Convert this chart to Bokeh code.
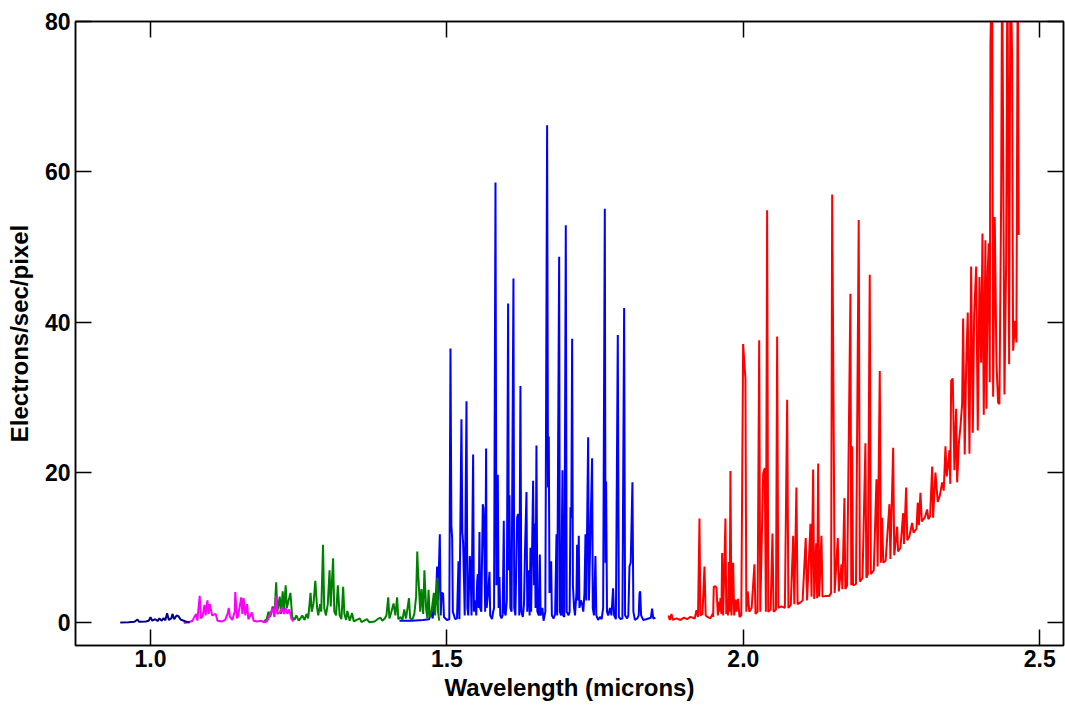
from bokeh.plotting import figure
from bokeh.models import Range1d, LinearAxis, FixedTicker, PrintfTickFormatter
from bokeh.embed import file_html
from bokeh.resources import INLINE

# ---------------- data ----------------
x_ticks = [1.0, 1.5, 2.0, 2.5]
y_ticks = [0, 20, 40, 60, 80]

navy_wl = [0.949, 0.963, 0.973, 0.978, 0.981, 0.992, 0.997, 1.000, 1.003, 1.008, 1.012, 1.015,
           1.019, 1.022, 1.025, 1.028, 1.031, 1.035, 1.037, 1.040, 1.044, 1.047, 1.051, 1.056,
           1.061, 1.066]
navy_flux = [0.05, 0.1, 0.15, 0.45, 0.15, 0.2, 0.3, 0.75, 0.3, 0.5, 0.25, 0.6,
             0.3, 0.65, 0.35, 1.3, 0.4, 0.6, 1.2, 0.5, 1.0, 0.9, 0.45, 0.3,
             0.15, 0.05]

magenta_wl = [1.056, 1.064, 1.071, 1.074, 1.077, 1.079, 1.083, 1.085, 1.088, 1.091, 1.093, 1.096,
              1.098, 1.100, 1.104, 1.110, 1.113, 1.121, 1.126, 1.130, 1.132, 1.134, 1.138, 1.142,
              1.143, 1.146, 1.148, 1.153, 1.155, 1.157, 1.160, 1.163, 1.165, 1.171, 1.174, 1.180,
              1.186, 1.191, 1.196, 1.199, 1.202, 1.206, 1.209, 1.212, 1.214, 1.218, 1.222, 1.225,
              1.228, 1.231, 1.234, 1.238, 1.241]
magenta_flux = [0.0, 0.1, 0.3, 0.8, 1.2, 0.3, 3.6, 0.6, 0.9, 2.4, 1.0, 3.0,
                1.2, 2.5, 1.0, 1.2, 0.3, 0.2, 0.4, 1.2, 2.0, 0.8, 0.4, 1.5,
                4.1, 0.6, 1.0, 3.4, 1.2, 3.3, 1.0, 2.5, 0.5, 1.4, 0.3, 0.2,
                0.3, 0.1, 0.2, 0.6, 1.2, 1.9, 0.8, 3.6, 1.2, 1.4, 2.0, 1.2,
                2.0, 1.2, 1.8, 0.5, 0.2]

green_wl = [1.189, 1.196, 1.199, 1.202, 1.206, 1.209, 1.212, 1.214, 1.218, 1.220, 1.223, 1.225,
            1.228, 1.230, 1.233, 1.236, 1.239, 1.243, 1.246, 1.250, 1.253, 1.256, 1.260, 1.263,
            1.266, 1.270, 1.272, 1.275, 1.278, 1.281, 1.283, 1.286, 1.288, 1.291, 1.293, 1.296,
            1.299, 1.302, 1.304, 1.308, 1.310, 1.313, 1.316, 1.319, 1.322, 1.325, 1.327, 1.330,
            1.332, 1.336, 1.340, 1.343, 1.353, 1.356, 1.365, 1.369, 1.378, 1.383, 1.388, 1.391,
            1.395, 1.398, 1.401, 1.403, 1.406, 1.410, 1.413, 1.416, 1.418, 1.422, 1.425, 1.428,
            1.431, 1.436, 1.438, 1.442, 1.445, 1.448, 1.450, 1.451, 1.455, 1.457, 1.460, 1.462,
            1.465, 1.467, 1.469, 1.471, 1.474, 1.478, 1.480, 1.484, 1.485, 1.487]
green_flux = [0.1, 0.5, 1.5, 0.8, 2.2, 1.0, 5.4, 1.5, 3.5, 1.2, 4.2, 1.5,
              5.0, 2.0, 3.0, 4.0, 0.8, 0.4, 1.0, 0.3, 0.6, 1.0, 0.4, 1.2,
              0.6, 4.0, 1.5, 2.6, 5.6, 2.0, 1.0, 2.5, 1.5, 10.4, 2.0, 1.0,
              2.5, 7.0, 2.2, 8.6, 1.5, 1.0, 5.0, 1.0, 0.5, 4.8, 1.2, 0.4,
              1.6, 0.3, 1.3, 0.2, 0.6, 0.1, 0.5, 0.1, 0.2, 0.5, 0.7, 0.3,
              0.6, 1.0, 3.4, 0.6, 1.4, 2.6, 1.0, 3.4, 0.5, 0.8, 0.4, 1.8,
              0.6, 3.3, 0.6, 0.5, 1.2, 3.5, 9.5, 7.3, 1.5, 4.5, 1.2, 7.0,
              1.8, 0.6, 4.4, 0.8, 1.5, 4.0, 1.0, 6.0, 1.5, 0.3]

blue_wl = [1.420, 1.440, 1.460, 1.470, 1.473, 1.476, 1.479, 1.481, 1.4835, 1.485, 1.488, 1.4895,
           1.491, 1.4936, 1.495, 1.500, 1.504, 1.506, 1.5075, 1.5088, 1.510, 1.514, 1.517, 1.5195,
           1.521, 1.5245, 1.526, 1.5273, 1.529, 1.530, 1.533, 1.5345, 1.536, 1.5386, 1.540, 1.5415,
           1.5442, 1.5455, 1.548, 1.5495, 1.551, 1.552, 1.5535, 1.5549, 1.556, 1.558, 1.5605, 1.5618,
           1.5633, 1.5645, 1.5661, 1.567, 1.5695, 1.5718, 1.573, 1.576, 1.578, 1.5795, 1.5819, 1.5835,
           1.5858, 1.5872, 1.5886, 1.590, 1.592, 1.594, 1.5959, 1.597, 1.599, 1.601, 1.6032, 1.6044,
           1.6055, 1.607, 1.609, 1.6122, 1.6135, 1.6155, 1.6184, 1.620, 1.621, 1.622, 1.624, 1.6255,
           1.628, 1.630, 1.6315, 1.6342, 1.6355, 1.638, 1.6395, 1.6409, 1.642, 1.6454, 1.647, 1.6482,
           1.6495, 1.6510, 1.6525, 1.655, 1.6567, 1.658, 1.661, 1.663, 1.666, 1.669, 1.6705, 1.6718,
           1.673, 1.6758, 1.677, 1.680, 1.6825, 1.6848, 1.686, 1.6893, 1.6905, 1.6925, 1.6949, 1.696,
           1.698, 1.7005, 1.702, 1.705, 1.707, 1.7084, 1.7098, 1.7112, 1.7125, 1.7145, 1.716, 1.7185,
           1.7196, 1.721, 1.7224, 1.7235, 1.726, 1.728, 1.730, 1.732, 1.7337, 1.735, 1.7382, 1.7395,
           1.7449, 1.746, 1.748, 1.7505, 1.752, 1.755, 1.758, 1.761, 1.7635, 1.7663, 1.7675, 1.7685,
           1.770, 1.772, 1.775, 1.7775, 1.7803, 1.782, 1.785, 1.7882, 1.790, 1.793, 1.796, 1.7989,
           1.8005, 1.804, 1.806, 1.8079, 1.810, 1.8129, 1.8145, 1.817, 1.821, 1.8235, 1.8248, 1.826,
           1.8275, 1.831, 1.836, 1.840, 1.844, 1.8461, 1.848, 1.8517]
blue_flux = [0.3, 0.3, 0.4, 0.5, 1.5, 0.6, 3.7, 2.5, 7.5, 3.0, 11.8, 1.0,
             4.0, 3.9, 0.8, 0.4, 0.5, 36.5, 13.0, 11.3, 1.5, 0.5, 0.6, 8.2,
             0.5, 27.1, 12.0, 10.7, 5.0, 1.0, 29.5, 2.0, 1.0, 8.9, 7.0, 1.0,
             22.4, 1.5, 3.0, 1.0, 5.5, 6.5, 2.0, 12.1, 2.0, 1.5, 15.8, 15.2,
             8.9, 1.5, 23.2, 2.0, 4.0, 6.8, 1.0, 0.5, 1.5, 2.0, 58.6, 5.0,
             19.7, 2.0, 6.1, 1.0, 0.6, 1.0, 13.6, 1.5, 1.0, 3.0, 42.5, 7.0,
             17.0, 2.0, 1.5, 45.8, 2.0, 1.0, 14.0, 14.5, 14.2, 1.0, 31.5, 1.5,
             0.8, 2.5, 9.0, 17.4, 1.5, 7.0, 1.0, 10.0, 1.5, 18.9, 5.0, 13.2,
             2.0, 23.6, 1.5, 1.0, 9.1, 1.0, 2.0, 0.3, 1.5, 66.2, 18.0, 24.8,
             4.0, 8.2, 1.0, 0.6, 1.2, 11.8, 1.0, 48.7, 1.5, 1.0, 20.3, 1.0,
             0.8, 52.9, 1.5, 1.0, 1.5, 15.4, 14.0, 37.8, 5.0, 2.0, 1.0, 4.0,
             10.4, 3.0, 11.6, 2.0, 3.0, 2.5, 1.5, 4.0, 11.8, 3.0, 24.7, 3.0,
             21.9, 2.0, 1.0, 8.9, 1.0, 0.4, 0.8, 0.5, 2.0, 55.1, 8.0, 18.8,
             1.5, 1.0, 2.0, 1.0, 4.6, 1.0, 0.5, 38.3, 0.8, 0.5, 0.6, 41.9,
             1.0, 0.6, 1.0, 7.5, 8.0, 18.7, 1.5, 0.4, 0.6, 1.0, 3.9, 4.2,
             1.0, 0.4, 0.5, 0.6, 0.7, 1.9, 0.6, 0.7]

red_wl = [1.8737, 1.8760, 1.8788, 1.8810, 1.8870, 1.8939, 1.9000, 1.9050, 1.9108, 1.9180, 1.9209, 1.9235,
          1.9260, 1.9275, 1.9310, 1.9344, 1.9365, 1.9394, 1.9445, 1.9480, 1.9490, 1.9501, 1.9525, 1.9546,
          1.9570, 1.9585, 1.9600, 1.9614, 1.9630, 1.9642, 1.9660, 1.9698, 1.9712, 1.9727, 1.9740, 1.9754,
          1.9768, 1.9782, 1.9800, 1.9828, 1.9845, 1.9870, 1.9885, 1.9910, 1.9935, 1.9965, 1.9996, 2.0035,
          2.0050, 2.0074, 2.0100, 2.0140, 2.0187, 2.0205, 2.0240, 2.0267, 2.0285, 2.0334, 2.0361, 2.0380,
          2.0401, 2.0420, 2.0460, 2.0491, 2.0510, 2.0550, 2.0570, 2.0590, 2.0640, 2.0700, 2.0739, 2.0760,
          2.0800, 2.0840, 2.0860, 2.0895, 2.0915, 2.0960, 2.1000, 2.1052, 2.1075, 2.1132, 2.1150, 2.1177,
          2.1195, 2.1228, 2.1245, 2.1262, 2.1280, 2.1317, 2.1335, 2.1390, 2.1450, 2.1480, 2.1498, 2.1525,
          2.1540, 2.1593, 2.1610, 2.1655, 2.1670, 2.1705, 2.1720, 2.1750, 2.1806, 2.1820, 2.1835, 2.1850,
          2.1900, 2.1946, 2.1965, 2.2010, 2.2059, 2.2075, 2.2100, 2.2132, 2.2150, 2.2200, 2.2245, 2.2265,
          2.2301, 2.2320, 2.2341, 2.2360, 2.2400, 2.2464, 2.2480, 2.2527, 2.2545, 2.2594, 2.2610, 2.2650,
          2.2695, 2.2710, 2.2746, 2.2765, 2.2800, 2.2847, 2.2870, 2.2920, 2.2942, 2.2960, 2.2987, 2.3010,
          2.3060, 2.3100, 2.3120, 2.3150, 2.3185, 2.3200, 2.3240, 2.3279, 2.3316, 2.3353, 2.3380, 2.3409,
          2.3430, 2.3447, 2.3476, 2.3490, 2.3505, 2.3532, 2.3560, 2.3589, 2.3606, 2.3636, 2.3662, 2.3690,
          2.3707, 2.3734, 2.3758, 2.3785, 2.3814, 2.3842, 2.3870, 2.3893, 2.3927, 2.3954, 2.3983, 2.4011,
          2.4033, 2.4055, 2.4083, 2.4100, 2.4122, 2.4139, 2.4156, 2.4168, 2.4196, 2.4213, 2.4240, 2.4269,
          2.4297, 2.4319, 2.4348, 2.4365, 2.4404, 2.4432, 2.4454, 2.4483, 2.4505, 2.4533, 2.4550, 2.4584,
          2.4606, 2.4628, 2.4645]
red_flux = [1.0, 0.4, 1.2, 0.4, 0.6, 0.4, 0.7, 0.5, 0.8, 0.6, 1.7, 0.8,
            13.9, 1.0, 1.2, 7.5, 1.0, 0.8, 0.6, 1.2, 0.8, 4.8, 4.9, 4.7,
            1.0, 2.8, 1.5, 3.3, 1.2, 9.3, 1.0, 13.9, 1.2, 2.9, 1.0, 8.1,
            1.5, 20.2, 1.0, 8.0, 1.0, 3.1, 1.5, 3.2, 0.8, 1.0, 37.1, 32.5,
            1.5, 4.2, 1.5, 2.0, 7.8, 1.2, 1.5, 37.6, 1.5, 19.9, 20.6, 1.5,
            54.9, 1.5, 1.8, 11.9, 1.5, 1.8, 38.1, 2.0, 2.2, 2.0, 29.7, 2.0,
            2.4, 11.6, 2.5, 18.0, 2.5, 2.7, 3.0, 11.3, 3.0, 13.2, 3.5, 20.4,
            3.2, 10.6, 3.3, 21.2, 3.5, 11.6, 3.5, 3.6, 3.6, 4.0, 57.0, 24.5,
            4.0, 11.3, 4.2, 7.8, 4.5, 16.6, 4.5, 5.0, 43.8, 5.0, 23.5, 5.0,
            5.2, 53.6, 5.5, 6.0, 23.9, 6.0, 6.5, 46.3, 6.5, 7.0, 19.1, 7.5,
            33.5, 8.0, 14.0, 8.0, 8.3, 15.8, 8.5, 23.3, 9.0, 12.8, 9.5, 10.0,
            14.6, 10.5, 18.0, 11.0, 11.5, 13.3, 12.0, 12.5, 16.0, 13.0, 17.3, 13.5,
            14.0, 15.1, 13.8, 14.2, 20.8, 14.0, 20.0, 16.1, 17.0, 18.7, 17.6, 23.5,
            19.5, 20.6, 23.0, 18.5, 32.2, 32.5, 20.3, 28.5, 18.7, 24.0, 26.1, 29.1,
            40.5, 22.4, 34.1, 41.3, 22.5, 47.4, 25.3, 41.0, 47.4, 25.6, 46.0, 34.6,
            51.8, 27.7, 50.9, 28.5, 46.7, 50.5, 32.0, 76.9, 90.0, 30.1, 54.0, 34.6,
            29.3, 29.1, 56.1, 90.0, 30.4, 47.6, 90.0, 34.4, 90.0, 75.2, 36.2, 40.2,
            37.3, 90.0, 51.6]

# ---------------- figure ----------------
FONT = "Liberation Sans"

p = figure(width=1065, height=709,
           x_range=Range1d(0.8735, 2.540), y_range=Range1d(-3, 80),
           output_backend="svg", toolbar_location=None,
           min_border_left=75, min_border_right=2, min_border_top=21, min_border_bottom=64,
           x_axis_label="Wavelength (microns)", y_axis_label="Electrons/sec/pixel")
p.grid.visible = False
p.background_fill_color = "white"
p.border_fill_color = "white"
p.outline_line_color = "black"
p.outline_line_width = 1.5

lw = 2
p.line(red_wl, red_flux, color="#FF0000", line_width=lw)
p.line(blue_wl, blue_flux, color="#0000FF", line_width=lw)
p.line(green_wl, green_flux, color="#008000", line_width=lw)
p.line(magenta_wl, magenta_flux, color="#FF00FF", line_width=lw)
p.line(navy_wl, navy_flux, color="#000080", line_width=lw)


def style_axis(ax, labels=True):
    ax.axis_line_color = "black"
    ax.axis_line_width = 1.5
    ax.major_tick_line_color = "black"
    ax.major_tick_line_width = 1.5
    ax.major_tick_in = 16
    ax.major_tick_out = 0
    ax.minor_tick_line_color = None
    if labels:
        ax.major_label_text_font = FONT
        ax.major_label_text_font_style = "bold"
        ax.major_label_text_font_size = "23px"
        ax.major_label_text_color = "black"
        ax.axis_label_text_font = FONT
        ax.axis_label_text_font_style = "bold"
        ax.axis_label_text_font_size = "24px"
        ax.axis_label_text_color = "black"
    else:
        ax.major_label_text_font_size = "0px"
        ax.major_label_text_color = None
        ax.major_label_standoff = 0
        ax.axis_label_standoff = 0
        ax.axis_label = None


xb = p.xaxis[0]
xb.ticker = FixedTicker(ticks=x_ticks)
xb.formatter = PrintfTickFormatter(format="%.1f")
style_axis(xb)
xb.major_label_standoff = 4
xb.axis_label_standoff = 4

yl = p.yaxis[0]
yl.ticker = FixedTicker(ticks=y_ticks)
yl.formatter = PrintfTickFormatter(format="%d")
style_axis(yl)
yl.major_label_standoff = 5
yl.axis_label_standoff = 9

xt = LinearAxis(ticker=FixedTicker(ticks=x_ticks))
style_axis(xt, labels=False)
xt.major_label_overrides = {t: "" for t in x_ticks}
p.add_layout(xt, "above")

yr = LinearAxis(ticker=FixedTicker(ticks=y_ticks))
style_axis(yr, labels=False)
yr.major_label_overrides = {t: "" for t in y_ticks}
p.add_layout(yr, "right")

html = file_html(p, INLINE)
html = html.replace("<head>",
                    "<head><style>html, body {margin: 0; padding: 0; overflow: hidden;}</style>", 1)
open("out.html", "w").write(html)
